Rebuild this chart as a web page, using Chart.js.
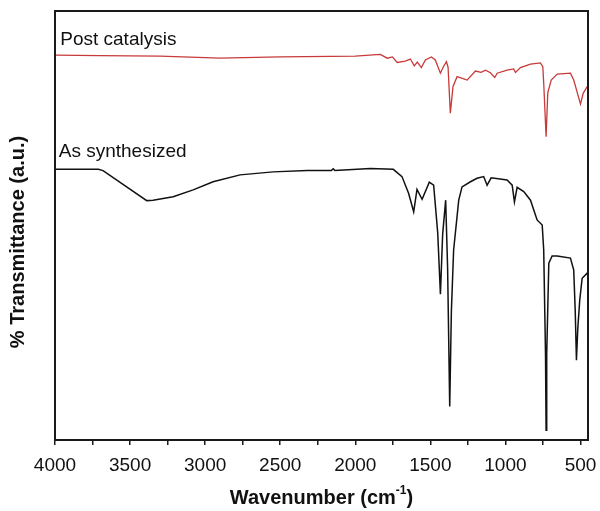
<!DOCTYPE html>
<html>
<head>
<meta charset="utf-8">
<script src="https://cdn.jsdelivr.net/npm/chart.js@4/dist/chart.umd.min.js"></script>
<style>
html,body{margin:0;padding:0;background:#fff;}
#wrap{width:600px;height:511px;position:relative;}
</style>
</head>
<body>
<div id="wrap"><canvas id="c" width="600" height="511"></canvas></div>
<script>
// Wavenumbers (cm^-1) and transmittance (a.u.)
const postWn = [4000,3700,3300,2900,2500,2000,1833,1787,1753,1720,1667,1633,1607,1587,1560,1533,1493,1467,1433,1413,1393,1382,1367,1349,1322,1255,1200,1162,1133,1100,1071,1055,989,945,933,900,833,767,751,745,729,718,695,655,567,545,500,482,455,450];
const postT  = [89.7,89.6,89.5,89.0,89.3,89.5,89.9,89.0,89.3,88.0,88.3,88.8,87.2,88.1,86.8,88.6,89.3,88.6,85.5,87.0,88.2,86.9,76.2,82.4,84.7,83.9,86.0,85.7,86.2,85.6,84.5,85.5,86.2,86.5,85.7,86.8,87.6,87.9,87.0,83.2,70.7,80.9,83.9,85.3,85.5,83.9,78.3,80.8,82.4,82.7];

const asWn = [4000,3711,3680,3389,3347,3213,3080,2947,2767,2547,2320,2160,2147,2135,1900,1747,1689,1645,1611,1589,1555,1507,1478,1451,1433,1418,1398,1385,1371,1360,1345,1311,1289,1233,1189,1145,1122,1095,989,955,940,922,878,833,789,755,745,733,729,725,711,689,655,567,545,535,527,518,505,489,455,450];
const asT  = [63.1,63.1,62.8,55.8,55.9,56.7,58.3,60.2,61.8,62.5,62.8,62.8,63.2,62.8,63.3,63.1,61.4,57.5,53.2,58.4,56.1,60.1,59.4,48.3,34.0,48.0,55.9,40.0,7.8,30.0,44.3,55.9,59.0,60.2,61.0,61.4,59.4,61.1,60.6,59.4,55.5,58.9,57.9,55.9,51.3,50.1,44.3,20.0,2.3,20.0,41.2,42.9,42.9,42.4,39.6,30.0,18.6,26.0,32.6,37.7,38.9,38.9];

const seriesNames = ['Post catalysis','As synthesized'];
const xTickValues = [4000,3750,3500,3250,3000,2750,2500,2250,2000,1750,1500,1250,1000,750,500];
const xTitle = 'Wavenumber (cm';
const xTitleSup = '-1';
const yTitle = '% Transmittance (a.u.)';
// label anchors in data units
const labelAt = [[3965,92.1],[3975,66.0]];

const toXY = (xs, ys) => xs.map((x,i)=>({x:x,y:ys[i]}));

const framePlugin = {
  id:'frame',
  afterDraw(chart){
    const {ctx, chartArea:a, scales} = chart;
    ctx.save();
    ctx.strokeStyle='#1a1a1a';
    ctx.lineWidth=2;
    ctx.strokeRect(a.left, a.top, a.right-a.left, a.bottom-a.top);
    // series labels
    ctx.fillStyle='#111';
    ctx.font='19px "Liberation Sans", Arial, sans-serif';
    ctx.textBaseline='alphabetic';
    ctx.textAlign='left';
    seriesNames.forEach((n,i)=>{
      ctx.fillText(n, scales.x.getPixelForValue(labelAt[i][0]), scales.y.getPixelForValue(labelAt[i][1]));
    });
    // x title with superscript
    ctx.font='bold 20px "Liberation Sans", Arial, sans-serif';
    const w1 = ctx.measureText(xTitle).width;
    ctx.font='bold 12px "Liberation Sans", Arial, sans-serif';
    const w2 = ctx.measureText(xTitleSup).width;
    ctx.font='bold 20px "Liberation Sans", Arial, sans-serif';
    const w3 = ctx.measureText(')').width;
    const total = w1+w2+w3;
    const cx = (a.left+a.right)/2;
    let x0 = cx - total/2;
    const by = 504;
    ctx.fillText(xTitle, x0, by);
    ctx.font='bold 12px "Liberation Sans", Arial, sans-serif';
    ctx.fillText(xTitleSup, x0+w1, by-10);
    ctx.font='bold 20px "Liberation Sans", Arial, sans-serif';
    ctx.fillText(')', x0+w1+w2, by);
    // y title
    ctx.translate(18, 242);
    ctx.rotate(-Math.PI/2);
    ctx.textAlign='center';
    ctx.textBaseline='middle';
    ctx.fillText(yTitle, 0, 0);
    ctx.restore();
  }
};

new Chart(document.getElementById('c'), {
  type:'line',
  data:{
    datasets:[
      {label:seriesNames[0], data:toXY(postWn,postT), borderColor:'#c83a3a', borderWidth:1.3, pointRadius:0, tension:0, fill:false},
      {label:seriesNames[1], data:toXY(asWn,asT), borderColor:'#111111', borderWidth:1.5, pointRadius:0, tension:0, fill:false}
    ]
  },
  options:{
    responsive:false,
    animation:false,
    devicePixelRatio:1,
    layout:{padding:{top:11,right:12,left:0,bottom:0}},
    plugins:{legend:{display:false},tooltip:{enabled:false}},
    scales:{
      x:{
        type:'linear', reverse:true, min:450, max:4000,
        afterBuildTicks(scale){ scale.ticks = xTickValues.map(v=>({value:v})); },
        afterFit(scale){ scale.height = 71; scale.paddingLeft = 0; scale.paddingRight = 0; },
        border:{display:false},
        grid:{display:true, drawOnChartArea:false, drawTicks:true, tickLength:5, color:'#1a1a1a', lineWidth:1.5},
        ticks:{
          autoSkip:false, maxRotation:0, padding:9, color:'#111',
          font:{size:19, family:'"Liberation Sans", Arial, sans-serif'},
          callback:(v)=> (v%500===0 ? String(v) : '')
        }
      },
      y:{
        type:'linear', min:0, max:100,
        afterFit(scale){ scale.width = 55; scale.paddingTop = 0; scale.paddingBottom = 0; },
        border:{display:false},
        grid:{display:false},
        ticks:{display:false}
      }
    }
  },
  plugins:[framePlugin]
});
</script>
</body>
</html>
